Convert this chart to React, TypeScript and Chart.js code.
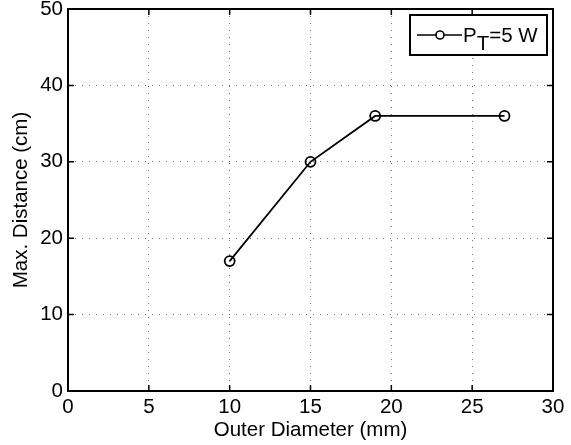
import { useEffect, useRef } from "react";
import { Chart, registerables } from "chart.js";

Chart.register(...registerables);

const diameters = [10, 15, 19, 27];
const maxDistance = [17, 30, 36, 36];
const xTicks = [0, 5, 10, 15, 20, 25, 30];
const yTicks = [0, 10, 20, 30, 40, 50];
const xTitle = "Outer Diameter (mm)";
const yTitle = "Max. Distance (cm)";
const legendMain = "P";
const legendSub = "T";
const legendRest = "=5 W";

const FONT = "'Liberation Sans', Arial, Helvetica, sans-serif";
const FS = 20.5;

const framePlugin = {
  id: "matlabFrame",
  afterDatasetsDraw(chart: any) {
    const { ctx, chartArea: a, scales } = chart;
    ctx.save();
    ctx.strokeStyle = "#000";
    ctx.lineWidth = 1.5;
    const tl = 6;
    ctx.beginPath();
    for (const v of xTicks) {
      const px = scales.x.getPixelForValue(v);
      ctx.moveTo(px, a.bottom);
      ctx.lineTo(px, a.bottom - tl);
      ctx.moveTo(px, a.top);
      ctx.lineTo(px, a.top + tl);
    }
    for (const v of yTicks) {
      const py = scales.y.getPixelForValue(v);
      ctx.moveTo(a.left, py);
      ctx.lineTo(a.left + tl, py);
      ctx.moveTo(a.right, py);
      ctx.lineTo(a.right - tl, py);
    }
    ctx.stroke();
    ctx.lineWidth = 2;
    ctx.strokeRect(a.left, a.top, a.right - a.left, a.bottom - a.top);

    // legend
    const bx = a.right - 143;
    const by = a.top + 6;
    const bw = 137;
    const bh = 40;
    ctx.fillStyle = "#fff";
    ctx.fillRect(bx, by, bw, bh);
    ctx.lineWidth = 2;
    ctx.strokeRect(bx, by, bw, bh);
    const ly = by + bh / 2;
    ctx.lineWidth = 1.6;
    ctx.beginPath();
    ctx.moveTo(bx + 7, ly);
    ctx.lineTo(bx + 52, ly);
    ctx.stroke();
    ctx.fillStyle = "#fff";
    ctx.beginPath();
    ctx.arc(bx + 30, ly, 4, 0, Math.PI * 2);
    ctx.fill();
    ctx.stroke();
    ctx.fillStyle = "#000";
    ctx.font = `${FS}px ${FONT}`;
    ctx.textBaseline = "alphabetic";
    ctx.textAlign = "left";
    let tx = bx + 53;
    const base = ly + 7;
    ctx.fillText(legendMain, tx, base);
    tx += ctx.measureText(legendMain).width;
    ctx.fillText(legendSub, tx, base + 8);
    tx += ctx.measureText(legendSub).width;
    ctx.fillText(legendRest, tx, base);
    ctx.restore();
  },
};

export default function App() {
  const ref = useRef<HTMLCanvasElement | null>(null);
  useEffect(() => {
    document.body.style.margin = "0";
    const canvas = ref.current!;
    const chart = new Chart(canvas, {
      type: "line",
      data: {
        datasets: [
          {
            label: legendMain + legendSub + legendRest,
            data: diameters.map((d, i) => ({ x: d, y: maxDistance[i] })),
            borderColor: "#000",
            borderWidth: 1.8,
            pointRadius: 5,
            pointBorderWidth: 1.8,
            pointBorderColor: "#000",
            pointBackgroundColor: "rgba(0,0,0,0)",
            fill: false,
            tension: 0,
          },
        ],
      },
      options: {
        animation: false,
        responsive: false,
        maintainAspectRatio: false,
        layout: { padding: { left: 0, top: 9, right: 18, bottom: 0 } },
        plugins: { legend: { display: false }, tooltip: { enabled: false } },
        scales: {
          x: {
            type: "linear",
            min: 0,
            max: 30,
            afterBuildTicks: (s: any) => {
              s.ticks = xTicks.map((v) => ({ value: v }));
            },
            afterFit: (s: any) => {
              s.height = 54;
              s.paddingLeft = 0;
              s.paddingRight = 0;
            },
            grid: { color: "rgba(0,0,0,0.55)", lineWidth: 1, drawTicks: false },
            border: { display: false, dash: [1, 6] },
            ticks: { color: "#000", padding: 4, font: { family: FONT, size: FS }, maxRotation: 0 },
            title: {
              display: true,
              text: xTitle,
              color: "#000",
              font: { family: FONT, size: FS },
              padding: { top: 0, bottom: 2 },
            },
          },
          y: {
            type: "linear",
            min: 0,
            max: 50,
            afterBuildTicks: (s: any) => {
              s.ticks = yTicks.map((v) => ({ value: v }));
            },
            afterFit: (s: any) => {
              s.width = 68;
              s.paddingTop = 0;
              s.paddingBottom = 0;
            },
            grid: { color: "rgba(0,0,0,0.55)", lineWidth: 1, drawTicks: false },
            border: { display: false, dash: [1, 6] },
            ticks: { color: "#000", padding: 5, font: { family: FONT, size: FS } },
            title: {
              display: true,
              text: yTitle,
              color: "#000",
              font: { family: FONT, size: FS },
              padding: { top: 9, bottom: 0 },
            },
          },
        },
      },
      plugins: [framePlugin],
    });
    return () => chart.destroy();
  }, []);
  return <canvas ref={ref} width={571} height={445} style={{ display: "block" }} />;
}
